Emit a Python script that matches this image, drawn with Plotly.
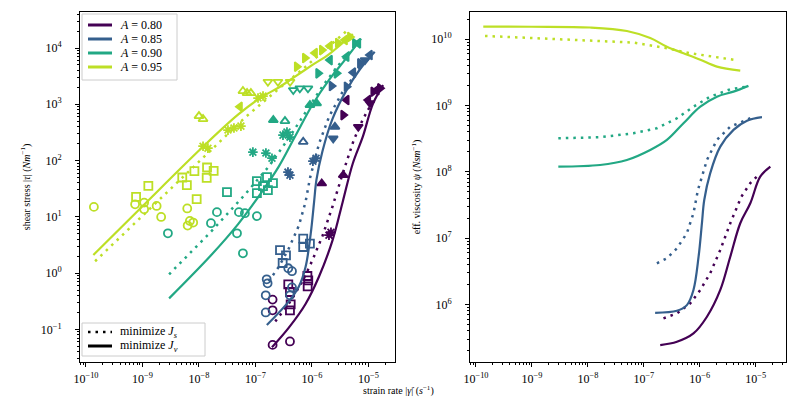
import plotly.graph_objects as go

# colours for the four packing fractions (viridis samples)
COLORS = ["#440154", "#355f8d", "#22a884", "#bddf26"]
A_LABELS = ["0.80", "0.85", "0.90", "0.95"]

# ---- model curves: strain rate (1/s) and effective viscosity (N s/m) ----
# A = 0.80
a80_v_rate = [1.96e-7, 3.9e-7, 7.7e-7, 1.34e-6, 2.32e-6, 3.5e-6, 5.28e-6, 7.98e-6, 1.2e-5, 1.82e-5]
a80_v_visc = [2.45e5, 2.75e5, 3.67e5, 6.55e5, 1.66e6, 5.26e6, 1.68e7, 3.36e7, 8.47e7, 1.2e8]
a80_s_rate = [2.24e-7, 3.9e-7, 6.73e-7, 1.02e-6, 1.53e-6, 2.32e-6, 3.5e-6, 5.5e-6, 8.0e-6, 1.2e-5]
a80_s_visc = [6.19e5, 7.36e5, 1.04e6, 1.66e6, 2.96e6, 6.64e6, 1.68e7, 4.2e7, 6.8e7, 9.5e7]
# A = 0.85
a85_v_rate = [1.59e-7, 3.9e-7, 5.87e-7, 7.7e-7, 9.5e-7, 1.09e-6, 1.2e-6, 1.53e-6, 2.32e-6, 4.0e-6, 6.97e-6, 1.29e-5]
a85_v_visc = [7.5e5, 8.05e5, 9.8e5, 1.66e6, 5.26e6, 1.68e7, 3.77e7, 9.5e7, 2.4e8, 4.29e8, 5.9e8, 6.67e8]
a85_s_rate = [1.71e-7, 2.58e-7, 3.9e-7, 5.87e-7, 7.7e-7, 9.25e-7, 1.34e-6, 2.02e-6, 3.5e-6, 7.98e-6]
a85_s_visc = [4.18e6, 4.98e6, 7.05e6, 1.19e7, 2.38e7, 5.33e7, 1.51e8, 3.03e8, 4.8e8, 6.43e8]
# A = 0.90
a90_v_rate = [2.96e-9, 1.65e-8, 4.97e-8, 1.3e-7, 2.58e-7, 5.1e-7, 1.02e-6, 2.02e-6, 4.0e-6, 7.4e-6]
a90_v_visc = [1.2e8, 1.27e8, 1.51e8, 2.14e8, 3.03e8, 5.41e8, 9.6e8, 1.36e9, 1.62e9, 1.98e9]
a90_s_rate = [2.96e-9, 1.65e-8, 6.5e-8, 1.71e-7, 3.9e-7, 7.7e-7, 1.53e-6, 3.5e-6, 6.97e-6]
a90_s_visc = [3.21e8, 3.33e8, 3.82e8, 4.55e8, 6.43e8, 9.6e8, 1.36e9, 1.76e9, 1.93e9]
# A = 0.95
a95_v_rate = [1.35e-10, 1.0e-9, 1.09e-8, 4.97e-8, 1.3e-7, 2.58e-7, 5.1e-7, 1.02e-6, 2.02e-6, 5.28e-6]
a95_v_visc = [1.55e10, 1.54e10, 1.5e10, 1.33e10, 1.04e10, 7.7e9, 6.15e9, 4.9e9, 3.86e9, 3.36e9]
a95_s_rate = [1.45e-10, 4.2e-9, 6.5e-8, 2.58e-7, 6.7e-7, 4.0e-6]
a95_s_visc = [1.12e10, 1.0e10, 8.9e9, 7.3e9, 6.15e9, 4.9e9]

# ---- measurements: strain rate, shear stress (N/m), run id ----
a80_rate = [2.01e-7, 2.01e-7, 2.01e-7, 4.08e-7,
            3.81e-7, 4.08e-7, 4.2e-7, 4.08e-7, 8.3e-7, 8.6e-7, 8.4e-7,
            2.0e-6, 2.17e-6, 1.49e-6, 3.58e-6, 6.6e-6, 3.58e-6, 4.11e-6,
            9.9e-6, 1.22e-5, 1.4e-5, 1.6e-5, 1.06e-5]
a80_stress = [0.338, 0.218, 0.053, 0.061,
              0.632, 0.461, 0.279, 0.218, 0.887, 0.745, 0.582,
              4.71, 5.32, 39.2, 55, 398, 643, 1190,
              1190, 1670, 1790, 1920, 1050]
a80_run = [0, 0, 0, 0, 1, 1, 1, 1, 1, 1, 1, 2, 2, 4, 4, 8, 6, 7, 7, 6, 7, 6, 8]

a85_rate = [1.58e-7, 1.64e-7, 1.52e-7, 1.52e-7, 3.81e-7, 4.43e-7, 4.08e-7, 4.43e-7,
            2.72e-7, 3.47e-7, 3.03e-7, 7.0e-7, 7.0e-7, 9.2e-7,
            1.04e-6, 1.18e-6, 4.08e-7, 3.76e-7,
            7.0e-7, 2.55e-6, 2.38e-6, 2.23e-6, 4.11e-6,
            5.38e-6, 7.08e-6, 1.06e-5, 8.7e-6]
a85_stress = [0.776, 0.659, 0.403, 0.2, 1.22, 1.08, 0.403, 0.558,
              2.55, 2.07, 1.51, 4.11, 2.91, 3.35,
              97.5, 110, 55, 62.2,
              215, 398, 247, 2110, 2050,
              3660, 5350, 7500, 6100]
a85_run = [0, 0, 0, 0, 0, 0, 0, 0, 1, 1, 1, 1, 1, 1, 2, 2, 2, 2,
           3, 4, 8, 6, 6, 7, 6, 7, 8]

a90_rate = [2.82e-9, 1.63e-8, 2.08e-8, 4.71e-8, 6.0e-8, 1.06e-7, 5.1e-8, 6.5e-8,
            3.13e-8, 1.06e-7, 1.06e-7, 1.6e-7, 1.66e-7, 2.04e-7, 1.36e-7,
            9.0e-8, 1.53e-7, 1.96e-7, 3.07e-7, 4.08e-7, 3.61e-7,
            2.07e-7, 3.33e-7, 9.2e-7, 1.21e-6,
            4.67e-7, 6.1e-7, 8.5e-7, 1.29e-6, 2.73e-6,
            2.08e-6, 4.1e-6, 5.77e-6, 6.6e-6]
a90_stress = [5.1, 7.7, 12.1, 5.1, 2.25, 10.3, 12.1, 11.6,
              27.4, 43, 26.3, 50.7, 29.7, 39.6, 35,
              141, 136, 110, 283, 261, 320,
              524, 503, 968, 1040,
              1790, 1920, 1920, 3550, 3550,
              6110, 7000, 12100, 12100]
a90_run = [0, 0, 0, 0, 0, 0, 0, 0, 1, 1, 1, 1, 1, 1, 1, 2, 2, 2, 2, 2, 2,
           4, 3, 4, 4, 5, 5, 5, 6, 6, 7, 7, 6, 7]

a95_rate = [1.38e-10, 7.4e-10, 1.07e-9, 1.07e-9, 1.78e-9, 2.14e-9, 6.2e-9, 6.9e-9, 7.9e-9, 6.3e-9,
            1.27e-9, 7.7e-10, 5.06e-9, 6.1e-9, 8.3e-9, 1.39e-8, 1.37e-8, 1.82e-8, 9.1e-9,
            1.18e-8, 1.44e-8, 3.26e-8, 4.16e-8, 5.53e-8, 1.11e-7, 1.36e-7,
            1.0e-8, 1.18e-8, 6.0e-8, 7.1e-8, 8.3e-8,
            1.66e-7, 2.5e-7, 4.1e-7,
            5.3e-8, 5.4e-7, 7.5e-7, 1.13e-6, 1.5e-6, 2.08e-6, 2.88e-6, 3.84e-6, 4.71e-6]
a95_stress = [15.0, 16.7, 17.9, 13.6, 15.6, 9.95, 14.1, 8.45, 7.9, 7.0,
              35.5, 22.6, 50, 36.5, 64.7, 75.3, 49.2, 65.6, 20.6,
              180, 166, 348, 378, 409, 1290, 1400,
              617, 546, 1720, 1580, 1580,
              2510, 2510, 2510,
              904, 4650, 6640, 8150, 9200, 10860, 12280, 13870, 15700]
a95_run = [0] * 10 + [1] * 9 + [2] * 7 + [3] * 5 + [5] * 3 + [7, 6, 6, 7, 6, 7, 6, 7, 6]

# axis decades (tick labels)
x_decades = [-10, -9, -8, -7, -6, -5]
stress_decades = [-1, 0, 1, 2, 3, 4]
visc_decades = [6, 7, 8, 9, 10]

RUN_SYMBOLS = ["circle-open", "square-open", "asterisk-open", "triangle-up-open",
               "triangle-up", "triangle-down-open", "triangle-right", "triangle-left",
               "triangle-down"]

curves = [
    (a80_v_rate, a80_v_visc, a80_s_rate, a80_s_visc),
    (a85_v_rate, a85_v_visc, a85_s_rate, a85_s_visc),
    (a90_v_rate, a90_v_visc, a90_s_rate, a90_s_visc),
    (a95_v_rate, a95_v_visc, a95_s_rate, a95_s_visc),
]
points = [
    (a80_rate, a80_stress, a80_run),
    (a85_rate, a85_stress, a85_run),
    (a90_rate, a90_stress, a90_run),
    (a95_rate, a95_stress, a95_run),
]

FONT = "Liberation Serif"
DOT = "2.5px,5px"
# the page body adds an 8px offset, so the figure is laid out 8px smaller
OFF = 8
W, H = 796 - OFF, 398 - OFF
PLOT_TOP, PLOT_BOTTOM = 12 - OFF, 362 - OFF
PLOT_H = PLOT_BOTTOM - PLOT_TOP


def px(x):
    return (x - OFF) / W


def py(y):
    return (PLOT_BOTTOM - (y - OFF)) / PLOT_H


def log_axis(decades, is_x):
    lo, hi = decades[0] - 1, decades[-1] + 1
    minors = [k * 10.0 ** d for d in range(lo, hi + 1) for k in range(2, 10)]
    return dict(
        type="log", showgrid=False, zeroline=False, showline=True, mirror=True,
        linecolor="black", linewidth=1, ticks="outside", ticklen=4, tickcolor="black",
        automargin=False, ticklabelstandoff=2 if is_x else 11,
        tickmode="array", tickvals=[10.0 ** d for d in decades],
        ticktext=[f"10<sup>{str(d).replace('-', '−')}</sup>" for d in decades],
        tickfont=dict(family=FONT, size=12, color="black"),
        minor=dict(ticks="outside", ticklen=2, tickcolor="black",
                   tickmode="array", tickvals=minors),
    )


fig = go.Figure()

for color, (rate, stress, run) in zip(COLORS, points):
    syms = [RUN_SYMBOLS[r] for r in run]
    fig.add_trace(go.Scatter(
        x=rate, y=stress, mode="markers", showlegend=False,
        marker=dict(symbol=syms, size=8, color=color, line=dict(color=color, width=1.8)),
        xaxis="x", yaxis="y",
    ))

for color, (vr, vv, sr, sv) in zip(COLORS, curves):
    # shear stress = viscosity * strain rate
    v_stress = [a * b for a, b in zip(vr, vv)]
    s_stress = [a * b for a, b in zip(sr, sv)]
    fig.add_trace(go.Scatter(x=sr, y=s_stress, mode="lines", showlegend=False,
                             line=dict(color=color, width=2.5, dash=DOT), xaxis="x", yaxis="y"))
    fig.add_trace(go.Scatter(x=vr, y=v_stress, mode="lines", showlegend=False,
                             line=dict(color=color, width=2.2, shape="spline"), xaxis="x", yaxis="y"))
    fig.add_trace(go.Scatter(x=sr, y=sv, mode="lines", showlegend=False,
                             line=dict(color=color, width=2.5, dash=DOT), xaxis="x2", yaxis="y2"))
    fig.add_trace(go.Scatter(x=vr, y=vv, mode="lines", showlegend=False,
                             line=dict(color=color, width=2.2, shape="spline"), xaxis="x2", yaxis="y2"))

# hand-drawn legends (matplotlib-like compact boxes)
shapes = []
annotations = []


def legend_box(x0, y0, x1, y1):
    shapes.append(dict(type="rect", xref="paper", yref="paper",
                       x0=px(x0), x1=px(x1), y0=py(y1), y1=py(y0),
                       line=dict(color="#cccccc", width=1), fillcolor="rgba(255,255,255,0.85)"))


def legend_item(y, color, label, dash="solid"):
    shapes.append(dict(type="line", xref="paper", yref="paper",
                       x0=px(88), x1=px(112), y0=py(y), y1=py(y),
                       line=dict(color=color, width=3 if dash == "solid" else 2.5, dash=dash)))
    annotations.append(dict(text=label, xref="paper", yref="paper", x=px(118), y=py(y),
                            xanchor="left", yanchor="middle", showarrow=False,
                            font=dict(family=FONT, size=12, color="black")))


legend_box(82, 14, 177, 80)
for yy, color, lab in zip([25, 39, 53, 67], COLORS, A_LABELS):
    legend_item(yy, color, f"<i>A</i> = {lab}")

legend_box(82, 323, 205, 356)
legend_item(332, "black", "minimize <i>J<sub>s</sub></i>", dash=DOT)
legend_item(346, "black", "minimize <i>J<sub>v</sub></i>")

annotations.append(dict(text="strain rate |<i>γ̇</i>| (<i>s</i><sup>−1</sup>)",
                        xref="paper", yref="paper", x=px(398), y=py(391),
                        xanchor="center", yanchor="middle", showarrow=False,
                        font=dict(family=FONT, size=10)))

fig.update_layout(
    width=W, height=H, showlegend=False,
    margin=dict(l=0, r=0, t=PLOT_TOP, b=H - PLOT_BOTTOM),
    paper_bgcolor="white", plot_bgcolor="white",
    font=dict(family=FONT, size=11, color="black"),
    xaxis=dict(log_axis(x_decades, True), domain=[px(80), px(395)], range=[-10.106, -4.53], anchor="y"),
    yaxis=dict(log_axis(stress_decades, False), domain=[0, 1], range=[-1.58, 4.64], anchor="x",
               title=dict(text="shear stress |<i>τ</i>| (<i>Nm</i><sup>−1</sup>)",
                          font=dict(size=10), standoff=8)),
    xaxis2=dict(log_axis(x_decades, True), domain=[px(470), px(786)], range=[-10.107, -4.46], anchor="y2"),
    yaxis2=dict(log_axis(visc_decades, False), domain=[0, 1], range=[5.134, 10.41], anchor="x2",
                title=dict(text="eff. viscosity <i>ψ</i> (<i>Nsm</i><sup>−1</sup>)",
                           font=dict(size=10), standoff=8)),
    shapes=shapes,
    annotations=annotations,
)

fig.write_html("out.html")
